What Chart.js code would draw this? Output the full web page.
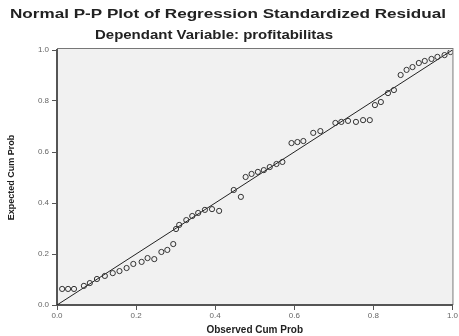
<!DOCTYPE html>
<html>
<head>
<meta charset="utf-8">
<script src="https://cdn.jsdelivr.net/npm/chart.js@4.4.0/dist/chart.umd.min.js"></script>
<style>
  html, body { margin: 0; padding: 0; background: #fff; }
  #wrap { width: 459px; height: 336px; }
</style>
</head>
<body>
<div id="wrap"><canvas id="myChart" width="459" height="336"></canvas></div>
<script>
// observed cum prob (x) vs expected cum prob (y)
var observed = [0.013, 0.028, 0.043, 0.068, 0.083, 0.101, 0.121, 0.141, 0.158, 0.176,
  0.193, 0.214, 0.229, 0.246, 0.264, 0.279, 0.294, 0.301, 0.309, 0.327, 0.342, 0.357,
  0.374, 0.392, 0.410, 0.447, 0.465, 0.477, 0.492, 0.508, 0.523, 0.538, 0.555, 0.570,
  0.593, 0.608, 0.623, 0.648, 0.666, 0.704, 0.719, 0.736, 0.756, 0.774, 0.791, 0.804,
  0.819, 0.837, 0.852, 0.869, 0.884, 0.899, 0.915, 0.930, 0.947, 0.962, 0.980, 0.995];
var expected = [0.063, 0.063, 0.063, 0.075, 0.086, 0.102, 0.114, 0.125, 0.133, 0.145,
  0.161, 0.169, 0.184, 0.180, 0.208, 0.216, 0.239, 0.298, 0.314, 0.333, 0.349, 0.361,
  0.373, 0.376, 0.369, 0.451, 0.424, 0.502, 0.514, 0.522, 0.529, 0.541, 0.553, 0.561,
  0.635, 0.639, 0.643, 0.675, 0.682, 0.714, 0.718, 0.722, 0.718, 0.725, 0.725, 0.784,
  0.796, 0.831, 0.843, 0.902, 0.922, 0.933, 0.949, 0.957, 0.965, 0.973, 0.980, 0.992];

// reference diagonal
var refX = [0, 1];
var refY = [0, 1];

var tickValues = [0, 0.2, 0.4, 0.6, 0.8, 1.0];

var titleText = "Normal P-P Plot of Regression Standardized Residual";
var subtitleText = "Dependant Variable: profitabilitas";

var points = [];
for (var i = 0; i < observed.length; i++) {
  points.push({ x: observed[i], y: expected[i] });
}
var refLine = [];
for (var j = 0; j < refX.length; j++) {
  refLine.push({ x: refX[j], y: refY[j] });
}

// grey plot background + frame, and the two title lines
var plotBack = {
  id: 'plotBack',
  beforeDraw: function(chart) {
    var ctx = chart.ctx, a = chart.chartArea;
    ctx.save();
    ctx.fillStyle = '#f1f1f1';
    ctx.fillRect(a.left, a.top - 2, a.right - a.left, a.bottom - a.top + 2);
    ctx.strokeStyle = '#777';
    ctx.lineWidth = 1;
    ctx.strokeRect(a.left + 0.5, a.top - 1.5, a.right - a.left, a.bottom - a.top + 1);
    ctx.restore();
  },
  afterDraw: function(chart) {
    var ctx = chart.ctx;
    ctx.save();
    ctx.fillStyle = '#222';
    ctx.textAlign = 'center';
    ctx.textBaseline = 'middle';
    drawStretched(ctx, titleText, 'bold 12px "Liberation Sans", Arial, sans-serif', 228, 15, 436);
    drawStretched(ctx, subtitleText, 'bold 12px "Liberation Sans", Arial, sans-serif', 214, 36, 238);
    ctx.restore();
  }
};

function drawStretched(ctx, txt, font, cx, cy, w) {
  ctx.font = font;
  var m = ctx.measureText(txt).width;
  var s = w / m;
  ctx.save();
  ctx.translate(cx, cy);
  ctx.scale(s, 1);
  ctx.fillText(txt, 0, 0);
  ctx.restore();
}

var tickFont = { family: '"Liberation Sans", Arial, sans-serif', size: 8 };
var axisTitleFont = { family: '"Liberation Sans", Arial, sans-serif', size: 10, weight: 'bold' };

const config = {
  type: 'scatter',
  data: {
    datasets: [{
      label: 'points',
      data: points,
      pointStyle: 'circle',
      pointRadius: 2.6,
      borderColor: '#333',
      borderWidth: 1,
      backgroundColor: 'rgba(0,0,0,0)',
      order: 1
    }, {
      label: 'diagonal',
      type: 'line',
      data: refLine,
      borderColor: '#222',
      borderWidth: 1,
      pointRadius: 0,
      fill: false,
      order: 2
    }]
  },
  options: {
    responsive: false,
    animation: false,
    layout: { padding: { top: 50, right: 4, left: 0, bottom: 0 } },
    plugins: {
      legend: { display: false },
      tooltip: { enabled: false },
      title: { display: false }
    },
    scales: {
      x: {
        type: 'linear',
        min: 0, max: 1,
        afterFit: function(scale) { scale.height = 31; },
        afterBuildTicks: function(scale) { scale.ticks = tickValues.map(function(v) { return { value: v }; }); },
        ticks: {
          color: '#666',
          font: tickFont,
          padding: 1,
          maxRotation: 0,
          callback: function(v) { return Number(v).toFixed(1); }
        },
        grid: { drawOnChartArea: false, drawTicks: true, tickLength: 5, color: '#555' },
        border: { color: '#555', width: 2 },
        title: { display: true, text: 'Observed Cum Prob', font: axisTitleFont, color: '#222', padding: { top: 2, bottom: 0 } }
      },
      y: {
        type: 'linear',
        min: 0, max: 1,
        afterFit: function(scale) { scale.width = 57; },
        afterBuildTicks: function(scale) { scale.ticks = tickValues.map(function(v) { return { value: v }; }); },
        ticks: {
          color: '#666',
          font: tickFont,
          padding: 3,
          callback: function(v) { return Number(v).toFixed(1); }
        },
        grid: { drawOnChartArea: false, drawTicks: true, tickLength: 5, color: '#555' },
        border: { color: '#555', width: 2 },
        title: { display: true, text: 'Expected Cum Prob', font: { family: '"Liberation Sans", Arial, sans-serif', size: 9, weight: 'bold' }, color: '#222', padding: { top: 6, bottom: 0 } }
      }
    }
  },
  plugins: [plotBack]
};

const myChart = new Chart(document.getElementById('myChart'), config);
</script>
</body>
</html>
